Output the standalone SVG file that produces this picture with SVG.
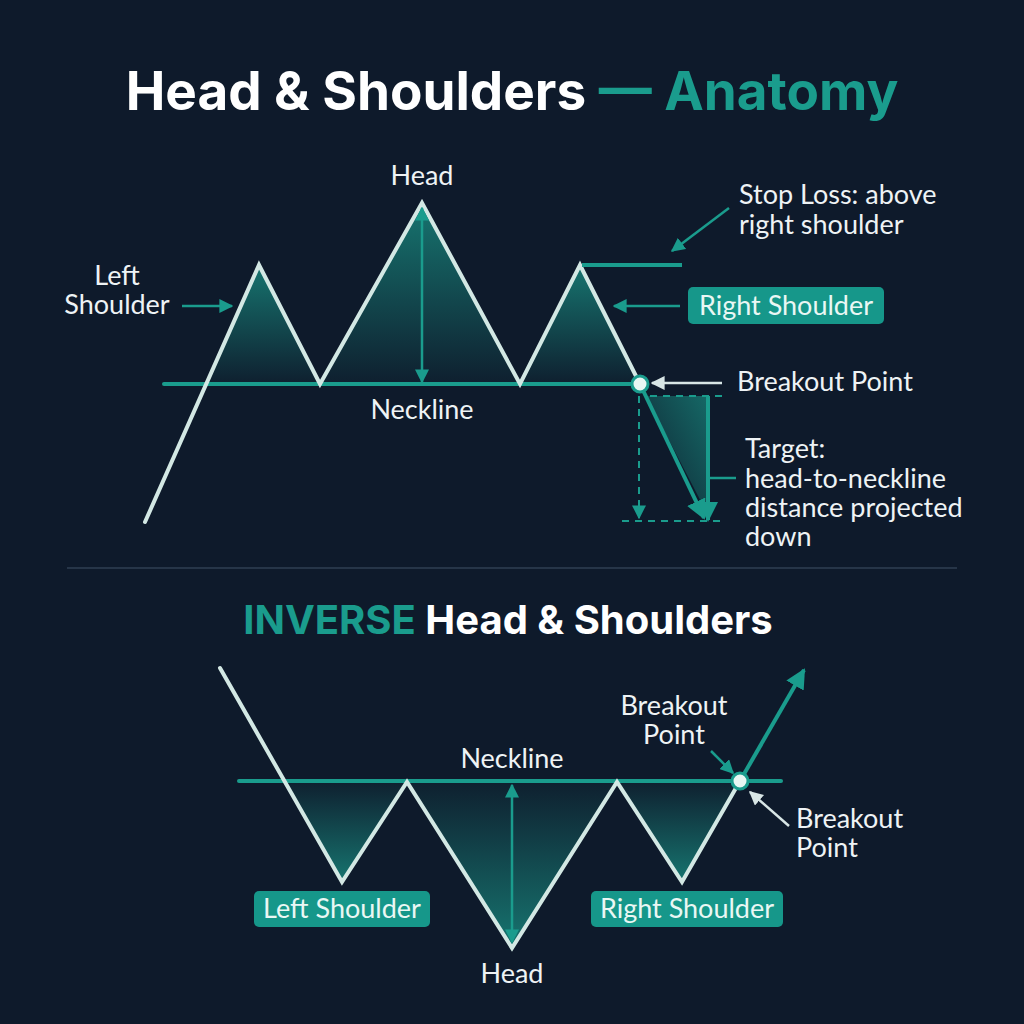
<svg xmlns="http://www.w3.org/2000/svg" width="1024" height="1024" viewBox="0 0 1024 1024">
<defs>
<style>
.bg{fill:#0e1a2b}
.price{fill:none;stroke:#d3e8e4;stroke-width:4;stroke-linejoin:miter;stroke-linecap:round}
.neck{stroke:#1a9c8d;stroke-width:4;stroke-linecap:round}
.tealln{fill:none;stroke:#1a9c8d;stroke-width:2.5}
.tealthick{fill:none;stroke:#1a9c8d;stroke-width:4}
.lightln{fill:none;stroke:#d8e6e6;stroke-width:2.5}
.dash{fill:none;stroke:#1a9c8d;stroke-width:2;stroke-dasharray:7 6}
.lbl{font-family:Lato,"Open Sans",sans-serif;font-size:27px;fill:#eef3f5}
.boxtxt{font-family:Lato,"Open Sans",sans-serif;font-size:27px;fill:#eaf7f4}
.box{fill:#16978a}
.dot{fill:#e8f7f3;stroke:#1a9c8d;stroke-width:3}
.title{font-family:Inter,"Liberation Sans",sans-serif;font-weight:700}
</style>
<linearGradient id="gUp" x1="0" y1="0" x2="0" y2="1">
<stop offset="0" stop-color="#1a9c8d" stop-opacity="0.7"/>
<stop offset="1" stop-color="#1a9c8d" stop-opacity="0.04"/>
</linearGradient>
<linearGradient id="gDn" x1="0" y1="1" x2="0" y2="0">
<stop offset="0" stop-color="#1a9c8d" stop-opacity="0.7"/>
<stop offset="1" stop-color="#1a9c8d" stop-opacity="0.04"/>
</linearGradient>
<linearGradient id="gT" x1="1" y1="0" x2="0" y2="1">
<stop offset="0" stop-color="#1a9c8d" stop-opacity="0.6"/>
<stop offset="1" stop-color="#1a9c8d" stop-opacity="0.05"/>
</linearGradient>
<marker id="aT" viewBox="0 0 10 10" refX="9" refY="5" markerWidth="14" markerHeight="14" markerUnits="userSpaceOnUse" orient="auto-start-reverse">
<path d="M0,0 L10,5 L0,10 z" fill="#1a9c8d"/>
</marker>
<marker id="aTL" viewBox="0 0 10 10" refX="9" refY="5" markerWidth="20" markerHeight="20" markerUnits="userSpaceOnUse" orient="auto-start-reverse">
<path d="M0,0 L10,5 L0,10 z" fill="#1a9c8d"/>
</marker>
<marker id="aL" viewBox="0 0 10 10" refX="9" refY="5" markerWidth="14" markerHeight="14" markerUnits="userSpaceOnUse" orient="auto-start-reverse">
<path d="M0,0 L10,5 L0,10 z" fill="#d8e6e6"/>
</marker>
</defs>
<rect class="bg" x="0" y="0" width="1024" height="1024"/>

<g id="title">
<text class="title" x="512" y="110" font-size="53" text-anchor="middle"><tspan fill="#ffffff">Head &amp; Shoulders </tspan><tspan fill="#1a9c8d">— Anatomy</tspan></text>
</g>

<!-- upper pattern -->
<g id="upper-fills">
<polygon points="206,384 259,265 320,384" fill="url(#gUp)"/>
<polygon points="320,384 422,203 520,384" fill="url(#gUp)"/>
<polygon points="520,384 580,265 640,384" fill="url(#gUp)"/>
<polygon points="646,396 708,396 708,515" fill="url(#gT)"/>
</g>

<g id="connectors">
<!-- upper -->
<line class="neck" x1="164" y1="384" x2="640" y2="384"/>
<polyline class="price" points="145,522 259,265 320,384 422,203 520,384 580,265 640,384"/>
<line class="tealthick" x1="640" y1="384" x2="704" y2="518" marker-end="url(#aTL)"/>
<line class="tealln" x1="422" y1="208" x2="422" y2="382" marker-start="url(#aT)" marker-end="url(#aT)"/>
<line class="tealln" x1="182" y1="306" x2="232" y2="306" marker-end="url(#aT)"/>
<line class="tealln" x1="680" y1="306" x2="614" y2="306" marker-end="url(#aT)"/>
<line class="tealthick" x1="582" y1="265" x2="682" y2="265"/>
<line class="tealln" x1="729" y1="208" x2="672" y2="251" marker-end="url(#aT)"/>
<line class="lightln" x1="722" y1="383" x2="652" y2="383" marker-end="url(#aL)"/>
<line class="dash" x1="650" y1="396" x2="725" y2="396"/>
<line class="dash" x1="622" y1="521" x2="725" y2="521"/>
<line class="dash" x1="639" y1="396" x2="639" y2="518" marker-end="url(#aT)"/>
<line class="tealthick" x1="708" y1="396" x2="708" y2="520" marker-end="url(#aTL)"/>
<line class="tealln" x1="708" y1="478" x2="736" y2="478"/>
<!-- divider -->
<line x1="67" y1="568" x2="957" y2="568" stroke="#263548" stroke-width="2"/>
</g>

<g id="upper-dot"><circle class="dot" cx="640" cy="384" r="8"/></g>

<g id="upper-labels">
<text class="lbl" x="422" y="185" text-anchor="middle">Head</text>
<text class="lbl" x="422" y="419" text-anchor="middle">Neckline</text>
<text class="lbl" x="117" y="285" text-anchor="middle">Left</text>
<text class="lbl" x="117" y="314" text-anchor="middle">Shoulder</text>
<text class="lbl" x="739" y="204">Stop Loss: above</text>
<text class="lbl" x="739" y="234">right shoulder</text>
<text class="lbl" x="737" y="391">Breakout Point</text>
<text class="lbl" x="745" y="458">Target:</text>
<text class="lbl" x="745" y="488">head-to-neckline</text>
<text class="lbl" x="745" y="517">distance projected</text>
<text class="lbl" x="745" y="546">down</text>
</g>
<g id="upper-right-shoulder">
<rect class="box" x="688" y="287" width="196" height="37" rx="5"/>
<text class="boxtxt" x="786" y="315" text-anchor="middle">Right Shoulder</text>
</g>

<g id="subtitle">
<text class="title" x="508" y="634" font-size="40" text-anchor="middle"><tspan fill="#1a9c8d">INVERSE </tspan><tspan fill="#ffffff">Head &amp; Shoulders</tspan></text>
</g>

<!-- lower pattern -->
<g id="lower-fills">
<polygon points="284,781 342,882 407,781" fill="url(#gDn)"/>
<polygon points="407,781 512,948 617,781" fill="url(#gDn)"/>
<polygon points="617,781 682,882 740,781" fill="url(#gDn)"/>
</g>
<g id="lower-connectors">
<line class="neck" x1="239" y1="781" x2="781" y2="781"/>
<polyline class="price" points="220,668 342,882 407,782 512,948 617,782 682,882 740,781"/>
<line class="tealthick" x1="740" y1="781" x2="804" y2="670" marker-end="url(#aTL)"/>
<line class="tealln" x1="512" y1="942" x2="512" y2="785" marker-start="url(#aT)" marker-end="url(#aT)"/>
<line class="tealln" x1="711" y1="751" x2="733" y2="773" marker-end="url(#aT)"/>
<line class="lightln" x1="789" y1="826" x2="750" y2="792" marker-end="url(#aL)"/>
</g>
<g id="lower-dot"><circle class="dot" cx="740" cy="781" r="8"/></g>
<g id="lower-labels">
<text class="lbl" x="512" y="768" text-anchor="middle">Neckline</text>
<text class="lbl" x="512" y="983" text-anchor="middle">Head</text>
<text class="lbl" x="674" y="715" text-anchor="middle">Breakout</text>
<text class="lbl" x="674" y="744" text-anchor="middle">Point</text>
<text class="lbl" x="796" y="828">Breakout</text>
<text class="lbl" x="796" y="857">Point</text>
</g>
<g id="lower-left-shoulder">
<rect class="box" x="254" y="891" width="176" height="36" rx="5"/>
<text class="boxtxt" x="342" y="918" text-anchor="middle">Left Shoulder</text>
</g>
<g id="lower-right-shoulder">
<rect class="box" x="591" y="891" width="192" height="36" rx="5"/>
<text class="boxtxt" x="687" y="918" text-anchor="middle">Right Shoulder</text>
</g>
</svg>
